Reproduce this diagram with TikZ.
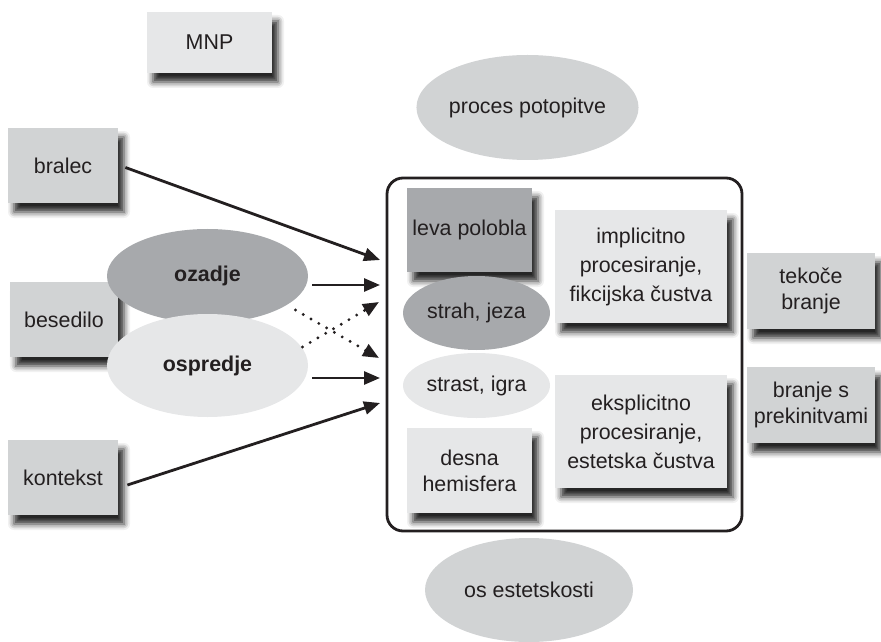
\documentclass[tikz,border=0pt]{standalone}
\usepackage{fontspec}
\setmainfont{Liberation Sans}
\usetikzlibrary{shapes.geometric,shadows.blur,arrows.meta,calc}
\definecolor{darkgrey}{HTML}{A7A9AC}
\definecolor{midgrey}{HTML}{D1D3D4}
\definecolor{lightgrey}{HTML}{E6E7E8}
\definecolor{inkgrey}{HTML}{231F20}

\begin{document}
\begin{tikzpicture}[x=0.5pt, y=-0.5pt,
    font=\fontsize{10.7}{13}\selectfont, text=inkgrey,
    box/.style={rectangle, inner sep=0pt, align=center,
        blur shadow={shadow xshift=3pt, shadow yshift=-4.5pt, shadow blur radius=3pt, shadow opacity=85}},
    blob/.style={ellipse, inner sep=0pt, align=center},
    arr/.style={-{Triangle[length=8pt,width=6.5pt]}, line width=1.4pt, draw=inkgrey},
    dots/.style={arr, line width=1.6pt, line cap=round, dash pattern=on 0pt off 4.5pt}]
    \useasboundingbox (0,0) rectangle (881,641);
    % Sources on the left
    \node[box, fill=lightgrey, minimum width=62.5pt, minimum height=30.5pt] (mnp) at (209.5,42.5) {MNP};
    \node[box, fill=midgrey, minimum width=55pt, minimum height=37.5pt] (bralec) at (63,165.5) {bralec};
    \node[box, fill=midgrey, minimum width=54pt, minimum height=37.5pt] (besedilo) at (64,319.5) {besedilo};
    \node[box, fill=midgrey, minimum width=55pt, minimum height=37.5pt] (kontekst) at (63,477.5) {kontekst};
    \node[blob, fill=darkgrey, minimum width=100.5pt, minimum height=47pt, font=\fontsize{10.7}{13}\selectfont\bfseries] (ozadje) at (207.5,276) {ozadje};
    \node[blob, fill=lightgrey, minimum width=100.5pt, minimum height=51.5pt, font=\fontsize{10.7}{13}\selectfont\bfseries] (ospredje) at (207.5,365.5) {ospredje};
    % Axes above and below
    \node[blob, fill=midgrey, minimum width=104.5pt, minimum height=52.5pt] (potop) at (527.5,107.5) {proces potopitve};
    \node[blob, fill=midgrey, minimum width=104pt, minimum height=52pt] (estet) at (529,590) {os estetskosti};
    % Frame and its content
    \node[draw=inkgrey, line width=1.4pt, rounded corners=8pt, minimum width=177.5pt, minimum height=176.5pt] (frame) at (564.5,354.5) {};
    \node[box, fill=darkgrey, minimum width=62.5pt, minimum height=42pt] (leva) at (469.5,230) {leva polobla};
    \node[blob, fill=darkgrey, minimum width=73.5pt, minimum height=37pt] (strah) at (476.5,313) {strah, jeza};
    \node[blob, fill=lightgrey, minimum width=73.5pt, minimum height=32.5pt] (strast) at (476.5,385.5) {strast, igra};
    \node[box, fill=lightgrey, minimum width=62.5pt, minimum height=42.5pt] (desna) at (469.5,470.5) {desna\\hemisfera};
    \node[box, fill=lightgrey, minimum width=86pt, minimum height=56.5pt, font=\fontsize{10.7}{14.5}\selectfont] (impl) at (641,266.5) {implicitno\\procesiranje,\\fikcijska čustva};
    \node[box, fill=lightgrey, minimum width=86pt, minimum height=56.5pt, font=\fontsize{10.7}{14.5}\selectfont] (ekspl) at (641,431.5) {eksplicitno\\procesiranje,\\estetska čustva};
    % Reading modes
    \node[box, fill=midgrey, minimum width=64pt, minimum height=38pt] (tekoce) at (811,291) {tekoče\\branje};
    \node[box, fill=midgrey, minimum width=64pt, minimum height=38pt] (prekinitve) at (811,405) {branje s\\prekinitvami};
    % Arrows into the frame
    \coordinate (in1) at (380,260);
    \coordinate (in2) at (380,285);
    \coordinate (in3) at (379,302);
    \coordinate (in4) at (379,358);
    \coordinate (in5) at (380,378);
    \coordinate (in6) at (380,403);
    \draw[arr] ($(bralec.east)+(7,2)$) -- (in1);
    \draw[arr] ($(ozadje.east)+(4,9)$) -- (in2);
    \draw[dots] ($(ozadje.east)+(-13,34)$) -- (in4);
    \draw[dots] ($(ospredje.east)+(-6,-18.5)$) -- (in3);
    \draw[arr] ($(ospredje.east)+(4,12.5)$) -- (in5);
    \draw[arr] ($(kontekst.east)+(9,7.5)$) -- (in6);
\end{tikzpicture}
\end{document}
